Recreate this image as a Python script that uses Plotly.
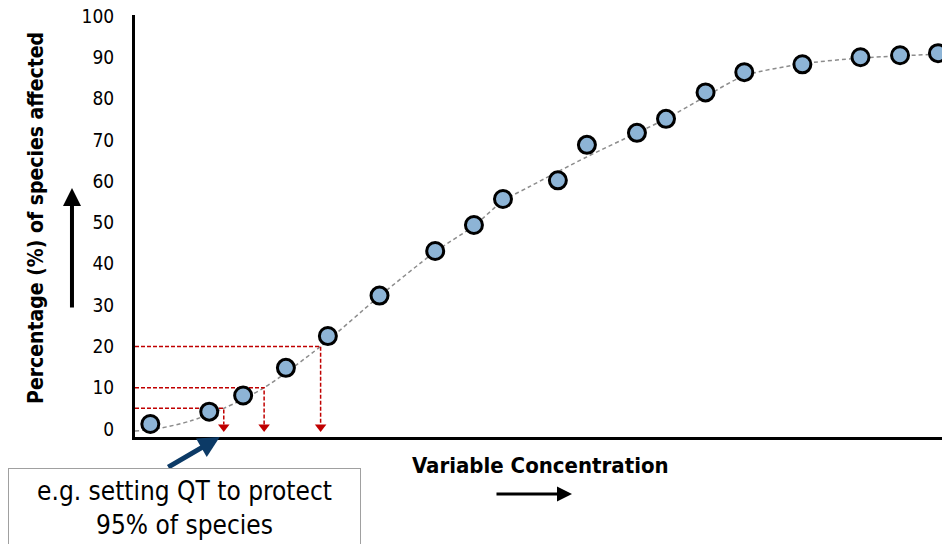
import plotly.graph_objects as go

# ---- data ----
conc = [1.9, 9.2, 13.4, 18.7, 23.9, 30.3, 37.2, 42.0, 45.6, 52.4,
        56.0, 62.2, 65.8, 70.7, 75.5, 82.7, 89.9, 94.8, 99.5]
pct_affected = [1.2, 4.2, 8.1, 14.8, 22.5, 32.3, 43.1, 49.4, 55.7, 60.2,
                68.8, 71.7, 75.1, 81.5, 86.4, 88.3, 90.0, 90.5, 91.0]

curve_x = [0, 3.1, 6.8, 11.0, 16.0, 23.0, 30.2, 37.2, 42.0, 45.6, 49.0,
           56.0, 62.2, 65.8, 70.6, 75.5, 82.7, 89.8, 100]
curve_y = [-0.5, 0.2, 1.9, 5, 10, 20, 32.0, 42.9, 49.2, 55.2, 58.8,
           65.9, 71.7, 75.1, 80.4, 85.5, 88.4, 89.8, 90.8]

protect_levels = [5, 10, 20]
conc_at_level = [11.0, 16.0, 23.0]

y_ticks = [0, 10, 20, 30, 40, 50, 60, 70, 80, 90, 100]

FONT = "DejaVu Sans Condensed, Liberation Sans Narrow, sans-serif"
RED = "#c00000"
ARROW_BASE = 1.1   # top of red arrowheads (data units)
ARROW_MID = 0.5

fig = go.Figure()

# fitted curve
fig.add_trace(go.Scatter(
    x=curve_x, y=curve_y, mode="lines",
    line=dict(color="#8c8c8c", width=1.5, dash="4px,3px", shape="spline", smoothing=0.8),
    hoverinfo="skip", showlegend=False))

# red guide lines
gx, gy = [], []
for lvl, c in zip(protect_levels, conc_at_level):
    gx += [0, c, c, None]
    gy += [lvl, lvl, ARROW_BASE, None]
fig.add_trace(go.Scatter(
    x=gx, y=gy, mode="lines",
    line=dict(color=RED, width=1.5, dash="4px,2px"),
    hoverinfo="skip", showlegend=False))
fig.add_trace(go.Scatter(
    x=conc_at_level, y=[ARROW_MID] * len(conc_at_level), mode="markers",
    marker=dict(symbol="triangle-down", size=10, color=RED),
    cliponaxis=False, hoverinfo="skip", showlegend=False))

# data points
fig.add_trace(go.Scatter(
    x=conc, y=pct_affected, mode="markers",
    marker=dict(size=17, color="#8db4d6", line=dict(color="black", width=3)),
    cliponaxis=False, showlegend=False))

fig.update_layout(
    width=942, height=544,
    margin=dict(l=135, r=0, t=15, b=107),
    paper_bgcolor="white", plot_bgcolor="white",
    font=dict(family=FONT, color="black"),
    xaxis=dict(range=[0, 100], showgrid=False, zeroline=False, showticklabels=False,
               showline=True, linecolor="black", linewidth=3, ticks=""),
    yaxis=dict(range=[-1.94, 100.24], showgrid=False, zeroline=False,
               tickvals=y_ticks, ticktext=[str(v) for v in y_ticks],
               tickfont=dict(size=19, family=FONT, color="black"),
               ticks="outside", ticklen=14, tickcolor="rgba(0,0,0,0)",
               showline=True, linecolor="black", linewidth=3),
)

annotations = [
    # y title
    dict(text="<b>Percentage (%) of species affected</b>", textangle=-90,
         xref="paper", yref="paper", x=-0.1227, y=0.519, xanchor="center", yanchor="middle",
         showarrow=False, font=dict(size=21, family=FONT, color="black")),
    # up arrow
    dict(text="", xref="paper", yref="paper", x=-0.0781, y=0.590, ax=0, ay=121,
         showarrow=True, arrowhead=2, arrowsize=0.9, arrowwidth=4, arrowcolor="black"),
    # x title
    dict(text="<b>Variable Concentration</b>", xref="paper", yref="paper",
         x=0.503, y=-0.0664, xanchor="center", yanchor="middle",
         showarrow=False, font=dict(size=22, family=FONT, color="black")),
    # right arrow
    dict(text="", xref="paper", yref="paper", x=0.5415, y=-0.135, ax=-77, ay=0,
         showarrow=True, arrowhead=2, arrowsize=1, arrowwidth=3, arrowcolor="black"),
    # navy arrow
    dict(text="", xref="x", yref="paper", x=10.5, y=0, ax=-53, ay=31,
         showarrow=True, arrowhead=2, arrowsize=0.85, arrowwidth=5, arrowcolor="#0c3a66"),
    # callout box
    dict(text="e.g. setting QT to protect<br>95% of species", xref="paper", yref="paper",
         x=-0.157, y=-0.0735, xanchor="left", yanchor="top", showarrow=False,
         width=337, height=96, valign="top", align="center",
         bordercolor="#a0a0a0", borderwidth=1, borderpad=7, bgcolor="white",
         font=dict(size=26, family=FONT, color="black")),
]
fig.update_layout(annotations=annotations)

fig.write_html("out.html", config={"displayModeBar": False},
               post_script="document.body.style.margin='0';document.body.style.overflow='hidden';")
